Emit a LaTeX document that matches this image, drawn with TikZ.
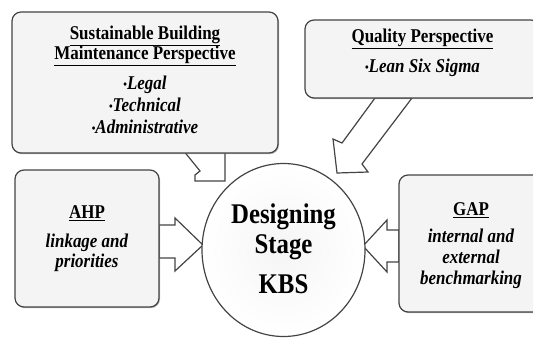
\documentclass[tikz,border=0pt]{standalone}
\usepackage{fontspec}
\setmainfont[FakeStretch=0.87]{Liberation Serif}
\usetikzlibrary{shapes.geometric,shadows}
\definecolor{edge}{HTML}{444444}
\definecolor{panel}{HTML}{F4F4F4}
\newcommand{\itm}[1]{{\fontsize{12}{12}\selectfont\raisebox{1.5pt}{•}}\textit{#1}}

\begin{document}
\begin{tikzpicture}[
  x=1pt, y=-1pt,
  box/.style={draw=edge, line width=1.2pt, rounded corners=9pt, fill=panel,
    drop shadow={shadow xshift=1pt, shadow yshift=-1.2pt, fill=black!55}},
  txt/.style={align=center, font=\fontsize{19.5}{20}\selectfont\bfseries},
  blk/.style={draw=edge, line width=1.2pt, fill=white, line join=miter},
  hub/.style={ellipse, draw=edge, line width=1.2pt, inner color=black!4, outer color=white,
    minimum width=163pt, minimum height=173pt, inner sep=0pt},
]
\clip (0,0) rectangle (533,338);

% ---------- block arrows (drawn first, boxes sit on top) ----------
\draw[blk] (183,150) -- (200,171) -- (195,175) -- (195,181) -- (225,181) -- (225,150) -- cycle;
\draw[blk] (375,98) -- (342,143) -- (333,139) -- (337,173) -- (368,172) -- (362,164) -- (412,98) -- cycle;
\draw[blk] (159,225) -- (175,225) -- (175,218) -- (203,245) -- (175,271) -- (175,258) -- (159,258) -- cycle;
\draw[blk] (399,230) -- (387,230) -- (387,220) -- (363,246) -- (387,272) -- (387,262) -- (399,262) -- cycle;

% ---------- perspective boxes ----------
\node[box, minimum width=266pt, minimum height=141pt] (sbm) at (145,82.5) {};
\node[box, minimum width=235pt, minimum height=78pt] (qual) at (422.5,59) {};
\node[box, minimum width=144pt, minimum height=137pt] (ahp) at (87,238.5) {};
\node[box, minimum width=144pt, minimum height=137pt] (gap) at (471,243.5) {};

\node[txt] (sbmtxt) at (145,80) {\underline{Sustainable Building}\\
  \underline{Maintenance Perspective}\\[10pt]
  \itm{Legal}\\[2pt] \itm{Technical}\\[2pt] \itm{Administrative}};
\node[txt] (qualtxt) at (422.5,53) {\underline{Quality Perspective}\\[10pt] \itm{Lean Six Sigma}};
\node[txt] (ahptxt) at (87,238.5) {\underline{AHP}\\[9pt] \textit{linkage and}\\ \textit{priorities}};
\node[txt, font=\fontsize{19.5}{21}\selectfont\bfseries] (gaptxt) at (471,246)
  {\underline{GAP}\\[6pt] \textit{internal and}\\ \textit{external}\\ \textit{benchmarking}};

% ---------- design stage ----------
\node[hub] (kbs) at (283.5,250) {};
\node[align=center, font=\fontsize{28.5}{30}\selectfont\bfseries] (kbstxt) at (283.5,248.5)
  {Designing\\ Stage\\[10pt] KBS};
\end{tikzpicture}
\end{document}
